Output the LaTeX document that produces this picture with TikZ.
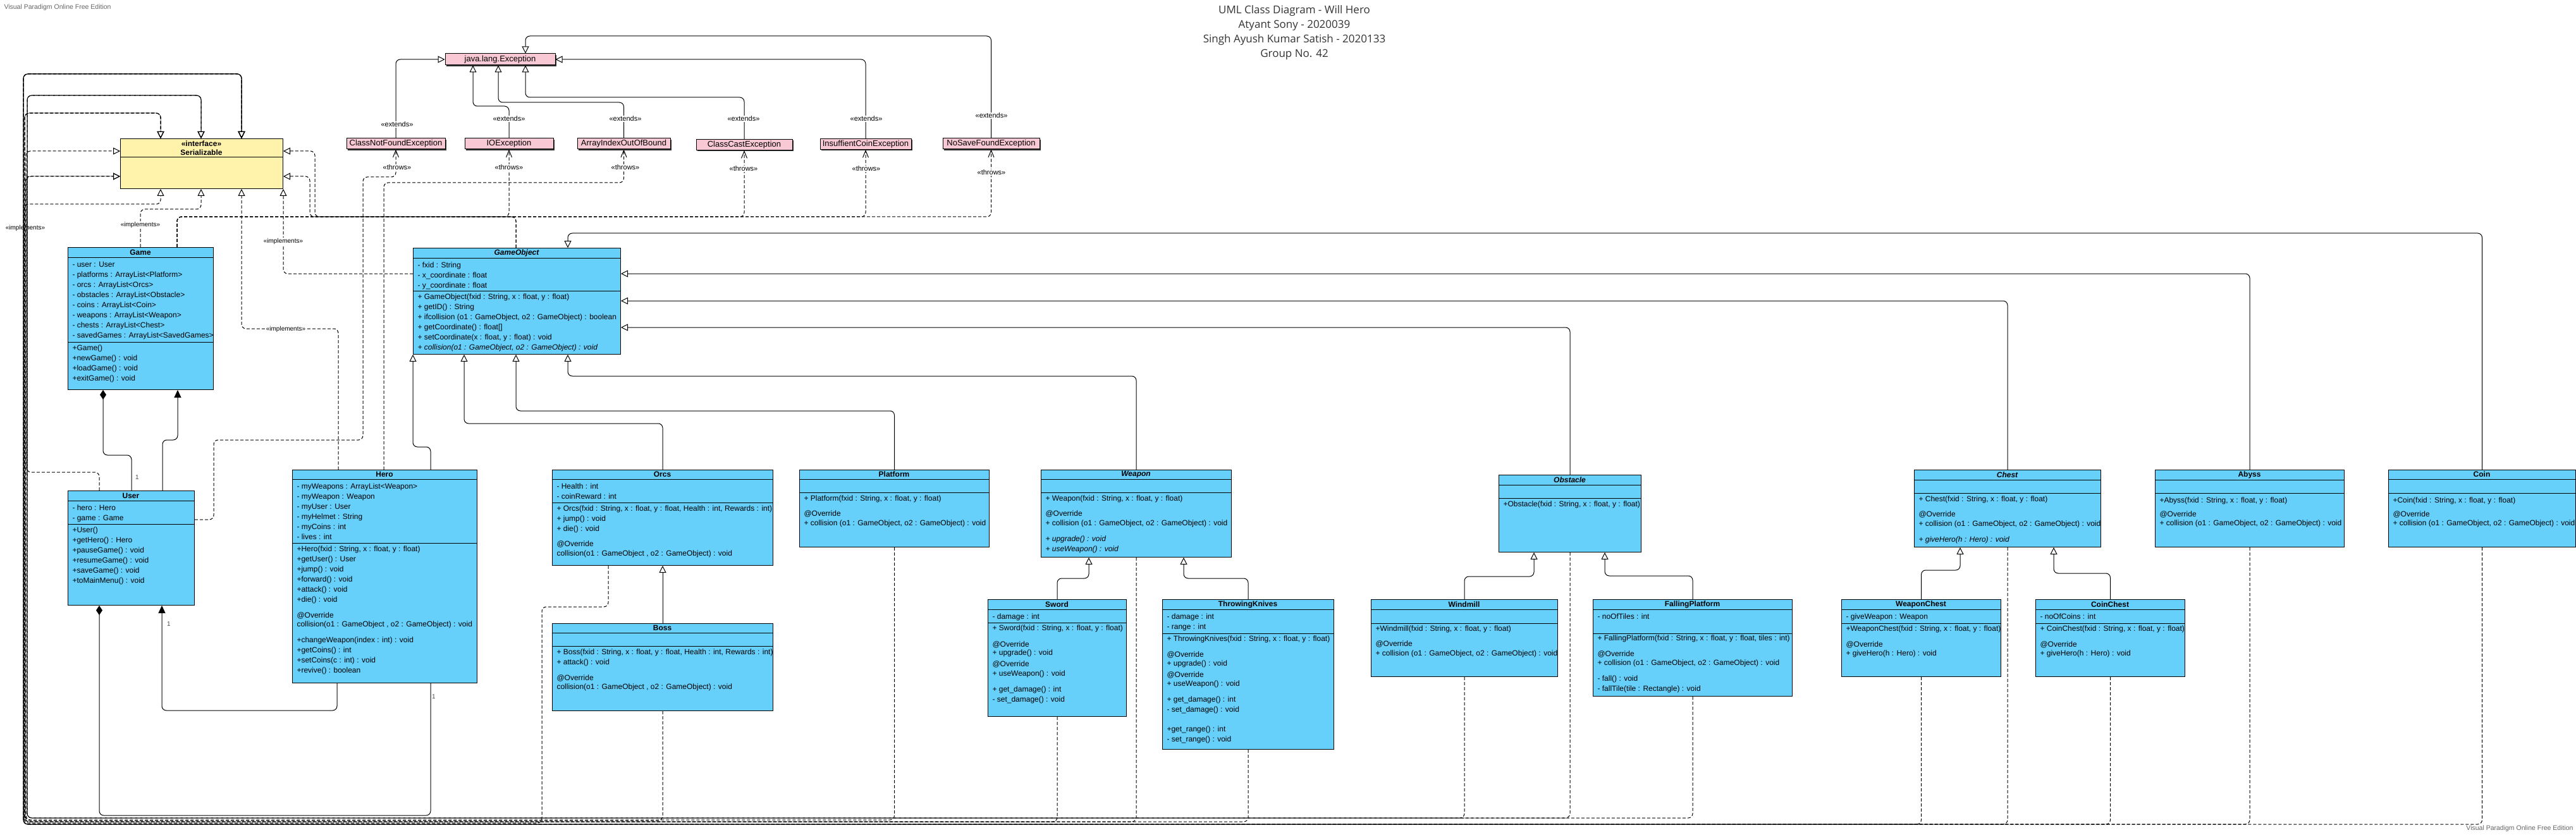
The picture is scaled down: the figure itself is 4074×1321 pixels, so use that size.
\documentclass[tikz,border=0pt]{standalone}
\usepackage{fontspec}
\setmainfont{Liberation Sans}
\newfontfamily\headfont{Open Sans}
\usetikzlibrary{arrows.meta,shadows}
\definecolor{clsblue}{RGB}{102,207,250}
\definecolor{ifyellow}{RGB}{255,242,170}
\definecolor{excpink}{RGB}{248,200,212}

\begin{document}
\begin{tikzpicture}[x=1pt, y=-1pt, line width=1pt,
    every node/.style={font=\fontsize{12}{16}\selectfont},
    clsbox/.style={draw, fill=clsblue, anchor=north west, inner sep=0pt},
    clsname/.style={inner sep=0pt, font=\fontsize{12}{16}\selectfont\bfseries},
    absname/.style={inner sep=0pt, font=\fontsize{12}{16}\selectfont\bfseries\itshape},
    members/.style={anchor=north west, align=left, inner sep=0pt},
    excbox/.style={draw, fill=excpink, inner sep=0pt, minimum height=17pt,
      font=\fontsize{13}{16}\selectfont,
      drop shadow={shadow xshift=1.5pt, shadow yshift=-2pt, fill=black!80, opacity=1}},
    gen/.style={-{Triangle[open, length=11pt, width=11pt]}, rounded corners=7pt},
    impl/.style={gen, dash pattern=on 5pt off 3pt},
    dep/.style={-{Straight Barb[length=11pt, width=9pt]}, dash pattern=on 5pt off 3pt, rounded corners=7pt},
    assoc/.style={-{Triangle[length=12pt, width=11pt]}, rounded corners=7pt},
    comp/.style={{Diamond[length=15pt, width=10pt]}-, rounded corners=7pt},
    stereo/.style={fill=white, inner sep=1pt, font=\fontsize{11}{13}\selectfont},
    mult/.style={inner sep=0pt, text=black!70, font=\fontsize{10}{12}\selectfont}]

  \fill[white] (0,0) rectangle (4074,1321);
  \useasboundingbox (0,0) rectangle (4074,1321);

  % title and watermarks
  \node[align=center, inner sep=0pt, text=black!80, font=\headfont\fontsize{17}{23}\selectfont] (title) at (2047,52)
    {UML Class Diagram - Will Hero\\Atyant Sony - 2020039\\Singh Ayush Kumar Satish - 2020133\\Group No. 42};
  \node[anchor=west, inner sep=0pt, text=black!60, font=\fontsize{10.5}{12}\selectfont] (wm-top) at (6,12) {Visual Paradigm Online Free Edition};
  \node[anchor=east, inner sep=0pt, text=black!60, font=\fontsize{10.5}{12}\selectfont] (wm-bot) at (4070,1311) {Visual Paradigm Online Free Edition};

  % Serializable
  \node[clsbox, fill=ifyellow, minimum width=257pt, minimum height=79pt] (ser) at (190,219) {};
  \draw (190,249) -- (447,249);
  \node[align=center, inner sep=0pt, font=\fontsize{12}{14}\selectfont\bfseries] (ser-n) at (318.5,234) {<<interface>>\\Serializable};

  % exceptions
  \node[excbox, minimum width=174pt, minimum height=18pt] (jle) at (791,94) {java.lang.Exception};
  \node[excbox, minimum width=156pt] (cnfe) at (626,227.5) {ClassNotFoundException};
  \node[excbox, minimum width=140pt] (ioe) at (805,227.5) {IOException};
  \node[excbox, minimum width=147pt] (aioe) at (986.5,227.5) {ArrayIndexOutOfBound};
  \node[excbox, minimum width=152pt] (cce) at (1177,229) {ClassCastException};
  \node[excbox, minimum width=144pt] (ice) at (1369,228) {InsuffientCoinException};
  \node[excbox, minimum width=153pt] (nsfe) at (1567.5,227.5) {NoSaveFoundException};

  % Game
  \node[clsbox, minimum width=230pt, minimum height=225pt] (game) at (107,391) {};
  \draw (107,407) -- (337,407) (107,541) -- (337,541);
  \node[clsname] (game-n) at (222,399) {Game};
  \node[members] (game-a) at (114,411) {\strut - user : User\\- platforms : ArrayList<Platform>\\- orcs : ArrayList<Orcs>\\- obstacles : ArrayList<Obstacle>\\- coins : ArrayList<Coin>\\- weapons : ArrayList<Weapon>\\- chests : ArrayList<Chest>\\- savedGames : ArrayList<SavedGames>};
  \node[members] (game-m) at (114,543) {\strut +Game()\\+newGame() : void\\+loadGame() : void\\+exitGame() : void};

  % User
  \node[clsbox, minimum width=200pt, minimum height=181pt] (user) at (107,776) {};
  \draw (107,792) -- (307,792) (107,829) -- (307,829);
  \node[clsname] (user-n) at (207,784) {User};
  \node[members] (user-a) at (114,796) {\strut - hero : Hero\\- game : Game};
  \node[members] (user-m) at (114,831) {\strut +User()\\+getHero() : Hero\\+pauseGame() : void\\+resumeGame() : void\\+saveGame() : void\\+toMainMenu() : void};

  % Hero
  \node[clsbox, minimum width=292pt, minimum height=337pt] (hero) at (462,743) {};
  \draw (462,758) -- (754,758) (462,859) -- (754,859);
  \node[clsname] (hero-n) at (608,750.5) {Hero};
  \node[members] (hero-a) at (469,762) {\strut - myWeapons : ArrayList<Weapon>\\- myWeapon : Weapon\\- myUser : User\\- myHelmet : String\\- myCoins : int\\- lives : int};
  \node[members] (hero-m) at (469,861) {\strut +Hero(fxid : String, x : float, y : float)\\+getUser() : User\\+jump() : void\\+forward() : void\\+attack() : void\\+die() : void\\[9pt]@Override\\[-2pt]collision(o1 : GameObject , o2 : GameObject) : void\\[9pt]+changeWeapon(index : int) : void\\+getCoins() : int\\+setCoins(c : int) : void\\+revive() : boolean};

  % GameObject
  \node[clsbox, minimum width=328pt, minimum height=168pt] (gobj) at (653,392) {};
  \draw (653,408) -- (981,408) (653,460) -- (981,460);
  \node[absname] (gobj-n) at (817,400) {GameObject};
  \node[members] (gobj-a) at (660,412) {\strut - fxid : String\\- x\_coordinate : float\\- y\_coordinate : float};
  \node[members] (gobj-m) at (660,462) {\strut + GameObject(fxid : String, x : float, y : float)\\+ getID() : String\\+ ifcollision (o1 : GameObject, o2 : GameObject) : boolean\\+ getCoordinate() : float[]\\+ setCoordinate(x : float, y : float) : void\\\textit{+ collision(o1 : GameObject, o2 : GameObject) : void}};

  % Orcs
  \node[clsbox, minimum width=349pt, minimum height=151pt] (orcs) at (873,743) {};
  \draw (873,758) -- (1222,758) (873,795) -- (1222,795);
  \node[clsname] (orcs-n) at (1047.5,750.5) {Orcs};
  \node[members] (orcs-a) at (880,762) {\strut - Health : int\\- coinReward : int};
  \node[members] (orcs-m) at (880,797) {\strut + Orcs(fxid : String, x : float, y : float, Health : int, Rewards : int)\\+ jump() : void\\+ die() : void\\[8pt]@Override\\[-1pt]collision(o1 : GameObject , o2 : GameObject) : void};

  % Boss
  \node[clsbox, minimum width=349pt, minimum height=138pt] (boss) at (873,986) {};
  \draw (873,1001) -- (1222,1001) (873,1022) -- (1222,1022);
  \node[clsname] (boss-n) at (1047.5,993.5) {Boss};
  \node[members] (boss-m) at (880,1024) {\strut + Boss(fxid : String, x : float, y : float, Health : int, Rewards : int)\\+ attack() : void\\[9pt]@Override\\[-2pt]collision(o1 : GameObject , o2 : GameObject) : void};

  % Platform
  \node[clsbox, minimum width=300pt, minimum height=122pt] (platform) at (1264,743) {};
  \draw (1264,758) -- (1564,758) (1264,779) -- (1564,779);
  \node[clsname] (platform-n) at (1414,750.5) {Platform};
  \node[members] (platform-m) at (1271,781) {\strut + Platform(fxid : String, x : float, y : float)\\[8pt]@Override\\[-1pt]+ collision (o1 : GameObject, o2 : GameObject) : void};

  % Weapon
  \node[clsbox, minimum width=301pt, minimum height=138pt] (weapon) at (1646,743) {};
  \draw (1646,758) -- (1947,758) (1646,779) -- (1947,779);
  \node[absname] (weapon-n) at (1796.5,750.5) {Weapon};
  \node[members] (weapon-m) at (1653,781) {\strut + Weapon(fxid : String, x : float, y : float)\\[8pt]@Override\\[-1pt]+ collision (o1 : GameObject, o2 : GameObject) : void\\[9pt]\textit{+ upgrade() : void}\\\textit{+ useWeapon() : void}};

  % Sword
  \node[clsbox, minimum width=219pt, minimum height=185pt] (sword) at (1562,948) {};
  \draw (1562,964) -- (1781,964) (1562,985) -- (1781,985);
  \node[clsname] (sword-n) at (1671.5,956) {Sword};
  \node[members] (sword-a) at (1569,968) {\strut - damage : int};
  \node[members] (sword-m) at (1569,986) {\strut + Sword(fxid : String, x : float, y : float)\\[10pt]@Override\\[-3pt]+ upgrade() : void\\[2pt]@Override\\[-1pt]+ useWeapon() : void\\[9pt]+ get\_damage() : int\\- set\_damage() : void};

  % ThrowingKnives
  \node[clsbox, minimum width=271pt, minimum height=237pt] (knives) at (1838,948) {};
  \draw (1838,964) -- (2109,964) (1838,1002) -- (2109,1002);
  \node[clsname] (knives-n) at (1973.5,956) {ThrowingKnives};
  \node[members] (knives-a) at (1845,968) {\strut - damage : int\\- range : int};
  \node[members] (knives-m) at (1845,1003) {\strut + ThrowingKnives(fxid : String, x : float, y : float)\\[9pt]@Override\\[-2pt]+ upgrade() : void\\[2pt]@Override\\[-2pt]+ useWeapon() : void\\[9pt]+ get\_damage() : int\\- set\_damage() : void\\[15pt]+get\_range() : int\\- set\_range() : void};

  % Obstacle
  \node[clsbox, minimum width=225pt, minimum height=122pt] (obstacle) at (2370,751) {};
  \draw (2370,767) -- (2595,767) (2370,788) -- (2595,788);
  \node[absname] (obstacle-n) at (2482.5,759) {Obstacle};
  \node[members] (obstacle-m) at (2377,790) {\strut +Obstacle(fxid : String, x : float, y : float)};

  % Windmill
  \node[clsbox, minimum width=295pt, minimum height=122pt] (windmill) at (2168,948) {};
  \draw (2168,964) -- (2463,964) (2168,986) -- (2463,986);
  \node[clsname] (windmill-n) at (2315.5,956) {Windmill};
  \node[members] (windmill-m) at (2175,987) {\strut +Windmill(fxid : String, x : float, y : float)\\[8pt]@Override\\[-1pt]+ collision (o1 : GameObject, o2 : GameObject) : void};

  % FallingPlatform
  \node[clsbox, minimum width=315pt, minimum height=153pt] (fallplat) at (2519,948) {};
  \draw (2519,964) -- (2834,964) (2519,1002) -- (2834,1002);
  \node[clsname] (fallplat-n) at (2676.5,956) {FallingPlatform};
  \node[members] (fallplat-a) at (2526,968) {\strut - noOfTiles : int};
  \node[members] (fallplat-m) at (2526,1002) {\strut + FallingPlatform(fxid : String, x : float, y : float, tiles : int)\\[9pt]@Override\\[-2pt]+ collision (o1 : GameObject, o2 : GameObject) : void\\[9pt]- fall() : void\\- fallTile(tile : Rectangle) : void};

  % Chest
  \node[clsbox, minimum width=295pt, minimum height=122pt] (chest) at (3027,743) {};
  \draw (3027,759) -- (3322,759) (3027,780) -- (3322,780);
  \node[absname] (chest-n) at (3174.5,751) {Chest};
  \node[members] (chest-m) at (3034,782) {\strut + Chest(fxid : String, x : float, y : float)\\[8pt]@Override\\[-1pt]+ collision (o1 : GameObject, o2 : GameObject) : void\\[9pt]\textit{+ giveHero(h : Hero) : void}};

  % WeaponChest
  \node[clsbox, minimum width=252pt, minimum height=122pt] (wchest) at (2912,948) {};
  \draw (2912,964) -- (3164,964) (2912,986) -- (3164,986);
  \node[clsname] (wchest-n) at (3038,956) {WeaponChest};
  \node[members] (wchest-a) at (2919,968) {\strut - giveWeapon : Weapon};
  \node[members] (wchest-m) at (2919,987) {\strut +WeaponChest(fxid : String, x : float, y : float)\\[9pt]@Override\\[-2pt]+ giveHero(h : Hero) : void};

  % CoinChest
  \node[clsbox, minimum width=236pt, minimum height=122pt] (cchest) at (3219,948) {};
  \draw (3219,964) -- (3455,964) (3219,986) -- (3455,986);
  \node[clsname] (cchest-n) at (3337,956) {CoinChest};
  \node[members] (cchest-a) at (3226,968) {\strut - noOfCoins : int};
  \node[members] (cchest-m) at (3226,987) {\strut + CoinChest(fxid : String, x : float, y : float)\\[9pt]@Override\\[-2pt]+ giveHero(h : Hero) : void};

  % Abyss
  \node[clsbox, minimum width=299pt, minimum height=122pt] (abyss) at (3408,743) {};
  \draw (3408,759) -- (3707,759) (3408,780) -- (3707,780);
  \node[clsname] (abyss-n) at (3557.5,751) {Abyss};
  \node[members] (abyss-m) at (3415,784) {\strut +Abyss(fxid : String, x : float, y : float)\\[6pt]@Override\\[-2pt]+ collision (o1 : GameObject, o2 : GameObject) : void};

  % Coin
  \node[clsbox, minimum width=296pt, minimum height=122pt] (coin) at (3777,743) {};
  \draw (3777,758) -- (4073,758) (3777,780) -- (4073,780);
  \node[clsname] (coin-n) at (3925,750.5) {Coin};
  \node[members] (coin-m) at (3784,784) {\strut +Coin(fxid : String, x : float, y : float)\\[6pt]@Override\\[-2pt]+ collision (o1 : GameObject, o2 : GameObject) : void};

  % generalisations
  \draw[gen] (cnfe.north) |- (jle.west);
  \draw[gen] (ioe.north) |- (748,168) -- (748,0 |- jle.south);
  \draw[gen] (aioe.north) |- (788,162) -- (788,0 |- jle.south);
  \draw[gen] (cce.north) |- (831,154) -- (831,0 |- jle.south);
  \draw[gen] (ice.north) |- (jle.east);
  \draw[gen] (nsfe.north) |- (831,57) -- (831,0 |- jle.north);

  \draw[gen] (681,0 |- hero.north) |- (653,707) -- (gobj.south west);
  \draw[gen] (orcs.north) |- (734,670) -- (734,0 |- gobj.south);
  \draw[gen] (platform.north) |- (816,650) -- (816,0 |- gobj.south);
  \draw[gen] (weapon.north) |- (898,595) -- (898,0 |- gobj.south);
  \draw[gen] (obstacle.north) |- (gobj.east |- 0,518);
  \draw[gen] (chest.north) |- (gobj.east |- 0,476);
  \draw[gen] (abyss.north) |- (gobj.east |- 0,433);
  \draw[gen] (coin.north) |- (898,369) -- (898,0 |- gobj.north);

  \draw[gen] (boss.north) -- (orcs.south);
  \draw[gen] (sword.north) |- (1722,915) -- (1722,0 |- weapon.south);
  \draw[gen] (knives.north) |- (1872,915) -- (1872,0 |- weapon.south);
  \draw[gen] (windmill.north) |- (2426,912) -- (2426,0 |- obstacle.south);
  \draw[gen] (fallplat.north) |- (2538,911) -- (2538,0 |- obstacle.south);
  \draw[gen] (wchest.north) |- (3100,902) -- (3100,0 |- chest.south);
  \draw[gen] (cchest.north) |- (3248,907) -- (3248,0 |- chest.south);

  % realisations of Serializable
  \draw[impl] (222,0 |- game.north) |- (318,331) -- (318,0 |- ser.south);
  \draw[impl] (535,0 |- hero.north) |- (382,520) -- (382,0 |- ser.south);
  \draw[impl] (gobj.west |- 0,433) -| (ser.south east);
  \draw[impl] (816,0 |- gobj.north) |- (490,343) |- (ser.east |- 0,279);
  \draw[impl] (816,0 |- gobj.north) |- (498,343) |- (ser.east |- 0,239);
  \draw[impl] (157,0 |- user.north) |- (42,747) |- (ser.west |- 0,279);
  \draw[impl] (962,0 |- orcs.south) |- (857,960) |- (38,1302) |- (254,323) -- (254,0 |- ser.south);
  \draw[impl] (boss.south) |- (40,1298) |- (ser.west |- 0,279);
  \draw[impl] (platform.south) |- (41,1297) |- (ser.west |- 0,239);
  \draw[impl] (sword.south) |- (39,1300) |- (254,179) -- (254,0 |- ser.north);
  \draw[impl] (weapon.south) |- (39,1300) |- (254,179) -- (254,0 |- ser.north);
  \draw[impl] (knives.south) |- (39,1300) |- (254,179) -- (254,0 |- ser.north);
  \draw[impl] (windmill.south) |- (43,1294) |- (318,151) -- (318,0 |- ser.north);
  \draw[impl] (obstacle.south) |- (43,1294) |- (318,151) -- (318,0 |- ser.north);
  \draw[impl] (fallplat.south) |- (43,1294) |- (318,151) -- (318,0 |- ser.north);
  \draw[impl] (wchest.south) |- (37,1304) |- (382,117) -- (382,0 |- ser.north);
  \draw[impl] (chest.south) |- (37,1304) |- (382,117) -- (382,0 |- ser.north);
  \draw[impl] (cchest.south) |- (37,1304) |- (382,117) -- (382,0 |- ser.north);
  \draw[impl] (abyss.south) |- (37,1304) |- (382,117) -- (382,0 |- ser.north);
  \draw[impl] (coin.south) |- (37,1304) |- (382,117) -- (382,0 |- ser.north);

  % throws
  \draw[dep] (user.east |- 0,822) -| (338,696) -| (574,280) -| (cnfe.south);
  \draw[dep] (607,0 |- hero.north) |- (aioe.south |- 0,289) -- (aioe.south);
  \draw[dep] (280,0 |- game.north) |- (ioe.south |- 0,343) -- (ioe.south);
  \draw[dep] (280,0 |- game.north) |- (cce.south |- 0,343) -- (cce.south);
  \draw[dep] (280,0 |- game.north) |- (ice.south |- 0,343) -- (ice.south);
  \draw[dep] (280,0 |- game.north) |- (nsfe.south |- 0,343) -- (nsfe.south);

  % associations
  \draw[comp] (163,0 |- game.south) |- (208,720) -- (208,0 |- user.north);
  \draw[assoc] (257,0 |- user.north) |- (281,696) -- (281,0 |- game.south);
  \draw[assoc] (533,0 |- hero.south) |- (256,1124) -- (256,0 |- user.south);
  \draw[comp] (157,0 |- user.south) |- (681,1290) -- (681,0 |- hero.south);

  % labels
  \node[stereo] (ext1) at (628,197) {<<extends>>};
  \node[stereo] (ext2) at (805,188) {<<extends>>};
  \node[stereo] (ext3) at (989,188) {<<extends>>};
  \node[stereo] (ext4) at (1176,188) {<<extends>>};
  \node[stereo] (ext5) at (1370,188) {<<extends>>};
  \node[stereo] (ext6) at (1568,183) {<<extends>>};
  \node[stereo] (thr1) at (628,265) {<<throws>>};
  \node[stereo] (thr2) at (805,265) {<<throws>>};
  \node[stereo] (thr3) at (989,265) {<<throws>>};
  \node[stereo] (thr4) at (1176,267) {<<throws>>};
  \node[stereo] (thr5) at (1370,267) {<<throws>>};
  \node[stereo] (thr6) at (1568,273) {<<throws>>};
  \node[stereo, font=\fontsize{10}{12}\selectfont] (imp1) at (222,356) {<<implements>>};
  \node[stereo, font=\fontsize{10}{12}\selectfont] (imp2) at (448,382) {<<implements>>};
  \node[stereo, font=\fontsize{10}{12}\selectfont] (imp3) at (452,521) {<<implements>>};
  \node[inner sep=1pt, font=\fontsize{10}{12}\selectfont] (imp4) at (40,361) {<<implements>>};
  \node[mult] (m1) at (217,755) {1};
  \node[mult] (m2) at (267,987) {1};
  \node[mult] (m3) at (686,1102) {1};
\end{tikzpicture}
\end{document}
